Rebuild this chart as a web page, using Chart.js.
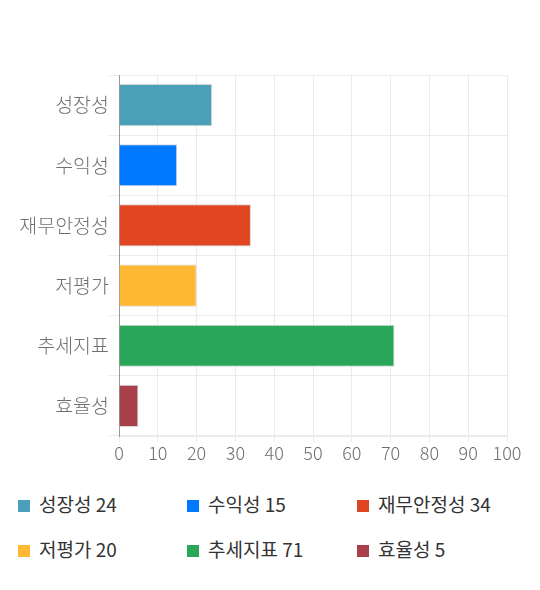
<!DOCTYPE html>
<html>
<head>
<meta charset="utf-8">
<script src="https://cdn.jsdelivr.net/npm/chart.js@4"></script>
<style>
  html, body { margin: 0; padding: 0; background: #fff; }
  #wrap { position: relative; width: 540px; height: 470px; }
  #legend { position: absolute; top: 490px; left: 18px; width: 520px; font-family: 'Noto Sans CJK KR', 'Noto Sans', sans-serif; font-size: 19px; color: #333; }
  .item { position: absolute; white-space: nowrap; line-height: 28px; }
  .box { display: inline-block; width: 12px; height: 12px; margin-right: 9px; vertical-align: 0px; }
</style>
</head>
<body>
<div id="wrap"><canvas id="chart" width="540" height="470"></canvas></div>
<div id="legend"></div>
<script>
// chart values
const categories = ['성장성', '수익성', '재무안정성', '저평가', '추세지표', '효율성'];
const scores = [24, 15, 34, 20, 71, 5];
const barColors = ['#4aa0b9', '#0078ff', '#e04522', '#ffb833', '#29a657', '#a8404c'];
const xTicks = [0, 10, 20, 30, 40, 50, 60, 70, 80, 90, 100];

const font = "'Noto Sans CJK KR', 'Noto Sans', sans-serif";

const ctx = document.getElementById('chart').getContext('2d');
new Chart(ctx, {
  type: 'bar',
  data: {
    labels: categories,
    datasets: [{
      data: scores,
      backgroundColor: barColors,
      borderColor: 'rgba(210, 210, 210, 0.9)',
      borderWidth: 1,
      barPercentage: 0.7,
      categoryPercentage: 1
    }]
  },
  options: {
    indexAxis: 'y',
    responsive: false,
    animation: false,
    layout: { padding: { top: 75, right: 33, left: 0, bottom: 0 } },
    plugins: { legend: { display: false }, tooltip: { enabled: false } },
    scales: {
      x: {
        min: xTicks[0],
        max: xTicks[xTicks.length - 1],
        afterBuildTicks: (axis) => { axis.ticks = xTicks.map(v => ({ value: v })); },
        grid: { color: '#ebebeb', drawTicks: true, tickLength: 6 },
        border: { color: '#ebebeb' },
        ticks: { color: '#6e6e6e', font: { family: font, size: 18, weight: '300' }, padding: 0 },
        afterFit: (axis) => { axis.height = 34; }
      },
      y: {
        grid: { color: '#ebebeb', offset: true, tickLength: 10 },
        border: { color: '#999' },
        ticks: { color: '#707070', font: { family: font, size: 19.5, weight: '300' }, padding: 0 },
        afterFit: (axis) => { axis.width = 119; }
      }
    }
  }
});

// html legend, 3 per row
const legend = document.getElementById('legend');
const colX = [0, 169, 339];
categories.forEach((name, i) => {
  const item = document.createElement('div');
  item.className = 'item';
  item.style.left = colX[i % 3] + 'px';
  item.style.top = (Math.floor(i / 3) * 45) + 'px';
  item.innerHTML = '<span class="box" style="background:' + barColors[i] + '"></span>' + name + ' ' + scores[i];
  legend.appendChild(item);
});
</script>
</body>
</html>
